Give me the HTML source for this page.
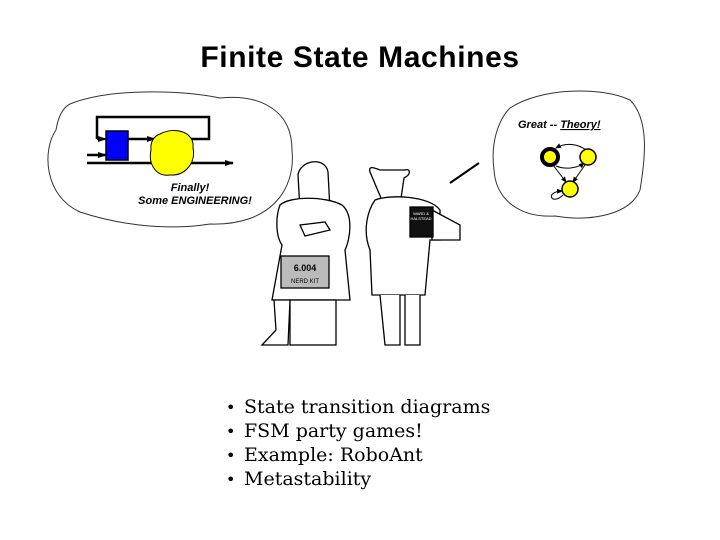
<!DOCTYPE html>
<html><head><style>
body{margin:0;width:720px;height:540px;background:#fff;overflow:hidden;position:relative;font-family:"Liberation Sans",sans-serif}
.t{position:absolute;left:0;width:720px;top:40px;text-align:center;font-weight:bold;font-size:30px;letter-spacing:0.6px;line-height:36px}
ul{position:absolute;left:226px;top:395px;margin:0;padding:0;list-style:none;font-family:"DejaVu Serif",serif;font-size:19px;line-height:24px}
ul li{height:24px;white-space:nowrap}
ul li:before{content:"•";display:inline-block;width:18px;font-size:16px;line-height:16px}
</style></head><body>
<div class="t">Finite State Machines</div>
<svg width="720" height="540" style="position:absolute;left:0;top:0">
<defs><marker id="a" markerUnits="userSpaceOnUse" markerWidth="9" markerHeight="6" refX="8" refY="3" orient="auto"><path d="M0,0L9,3L0,6z"/></marker>
<marker id="s" markerUnits="userSpaceOnUse" markerWidth="6" markerHeight="5" refX="5" refY="2.5" orient="auto"><path d="M0,0L6,2.5L0,5z"/></marker></defs>
<path d="M70,104 C110,88 180,90 220,98 C260,94 292,110 292,150 C296,190 270,226 210,224 C160,232 110,222 80,212 C44,196 42,150 56,130 C58,118 62,108 70,104Z" fill="none" stroke="#333" stroke-width="1"/>
<path d="M97,139 V117 H209 V139 H190" fill="none" stroke="#000" stroke-width="2.5"/>
<line x1="97" y1="139" x2="106" y2="139" stroke="#000" stroke-width="2" marker-end="url(#a)"/>
<rect x="106" y="131" width="22" height="29" fill="#00f" stroke="#000" stroke-width="1.5"/>
<line x1="128" y1="139" x2="155" y2="139" stroke="#000" stroke-width="2.5" marker-end="url(#a)"/>
<line x1="87" y1="155" x2="106" y2="155" stroke="#000" stroke-width="2.5" marker-end="url(#a)"/>
<line x1="87" y1="163" x2="233" y2="163" stroke="#000" stroke-width="2.5" marker-end="url(#a)"/>
<path d="M160,134 C175,126 195,132 193,148 C196,162 186,176 170,175 C156,177 148,164 151,150 C150,142 154,136 160,134Z" fill="#ff0" stroke="#000" stroke-width="1"/>
<text x="190" y="191" font-size="11" font-style="italic" font-weight="bold" text-anchor="middle">Finally!</text>
<text x="195" y="204" font-size="11" font-style="italic" font-weight="bold" text-anchor="middle">Some ENGINEERING!</text>
<path d="M510,108 C540,88 600,86 630,100 C650,120 645,160 640,190 C630,215 590,222 555,216 C520,218 496,200 494,170 C490,140 500,118 510,108Z" fill="none" stroke="#333" stroke-width="1"/>
<text x="518" y="128" font-size="11" font-style="italic" font-weight="bold">Great -- <tspan text-decoration="underline">Theory!</tspan></text>
<g fill="none" stroke="#000">
<path d="M586,150 C578,144 566,142 556,148" marker-end="url(#s)"/>
<path d="M556,166 C566,170 578,168 584,163" marker-end="url(#s)"/>
<path d="M553,165 L566,182" marker-end="url(#s)"/>
<path d="M585,165 L573,182" marker-end="url(#s)"/>
<path d="M563,195 C552,206 544,192 562,191" marker-end="url(#s)"/>
</g>
<circle cx="550" cy="157" r="8" fill="#ff0" stroke="#000" stroke-width="4"/>
<circle cx="588" cy="157" r="8" fill="#ff0" stroke="#000" stroke-width="1.5"/>
<circle cx="570" cy="189" r="8" fill="#ff0" stroke="#000" stroke-width="1.5"/>
<line x1="450" y1="183" x2="479" y2="163" stroke="#000" stroke-width="2"/>
<g fill="#fff" stroke="#000" stroke-width="1.3">
<path d="M298,175 C300,160 325,156 328,172 L330,210 L300,210 Z"/>
<path d="M280,205 C290,196 325,196 342,205 C354,215 350,240 345,250 L350,300 L272,300 L282,245 C275,235 276,215 280,205Z"/>
<rect x="290" y="300" width="46" height="45"/>
<path d="M274,300 L290,300 L288,345 L262,345 L276,330 Z"/>
<path d="M300,225 L325,222 L330,230 L305,236 Z"/>
<rect x="281" y="256" width="48" height="32" fill="#bbb"/>
</g>
<text x="305" y="271" font-size="9" font-weight="bold" text-anchor="middle">6.004</text>
<text x="305" y="283" font-size="6" text-anchor="middle">NERD KIT</text>
<g fill="#fff" stroke="#000" stroke-width="1.3">
<path d="M370,172 C368,165 375,168 380,170 L405,170 C410,168 412,174 404,178 L400,205 L384,205 Z"/>
<path d="M375,200 C368,210 362,230 370,250 L372,295 L425,295 L430,240 L440,240 L440,210 C430,196 390,194 375,200Z"/>
<path d="M380,295 L385,345 L400,345 L400,295 M405,295 L405,345 L420,345 L420,295"/>
<path d="M432,210 L460,225 L460,240 L432,240 Z"/>
<rect x="410" y="207" width="23" height="30" fill="#111"/>
</g>
<text x="421" y="215" font-size="4" fill="#fff" text-anchor="middle">WARD &amp;</text>
<text x="421" y="220" font-size="4" fill="#fff" text-anchor="middle">HALSTEAD</text>
</svg>
<ul><li>State transition diagrams</li><li>FSM party games!</li><li>Example: RoboAnt</li><li>Metastability</li></ul>
</body></html>
